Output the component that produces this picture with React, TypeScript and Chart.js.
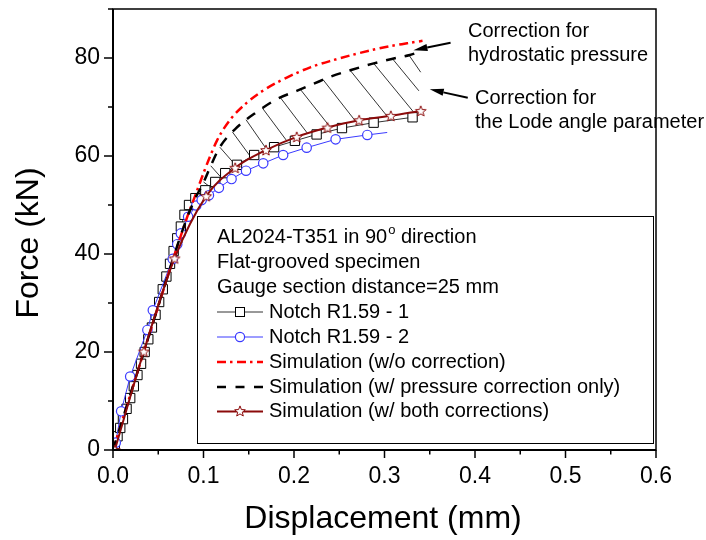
import React, { useEffect, useRef } from "react";
import { Chart, registerables } from "chart.js";

Chart.register(...registerables);

const FONT = '"Liberation Sans", Arial, Helvetica, sans-serif';

// ---- axes ----
const xTickValues = [0, 0.1, 0.2, 0.3, 0.4, 0.5, 0.6];
const yTickValues = [0, 20, 40, 60, 80];
const xMinorTicks = [0.05, 0.15, 0.25, 0.35, 0.45, 0.55];
const yMinorTicks = [10, 30, 50, 70, 90];
const xAxisTitle = "Displacement (mm)";
const yAxisTitle = "Force (kN)";

// ---- legend text ----
const seriesNames = [
  "Notch R1.59 - 1",
  "Notch R1.59 - 2",
  "Simulation (w/o correction)",
  "Simulation (w/ pressure correction only)",
  "Simulation (w/ both corrections)",
];
const headerLine1 = ["AL2024-T351 in 90", "o", " direction"];
const headerLine2 = "Flat-grooved specimen";
const headerLine3 = "Gauge section distance=25 mm";

const annoPressure = ["Correction for", "hydrostatic pressure"];
const annoLode = ["Correction for", "the Lode angle parameter"];

// ---- Notch R1.59 - 1 (squares) ----
const notch1X = [0.002, 0.005, 0.008, 0.011, 0.015, 0.019, 0.023, 0.027, 0.031, 0.035, 0.039, 0.043, 0.047, 0.051, 0.055, 0.059, 0.063, 0.067, 0.071, 0.075, 0.079, 0.084, 0.091, 0.102, 0.113, 0.124, 0.137, 0.156, 0.178, 0.201, 0.225, 0.253, 0.288, 0.331];
const notch1Y = [1.2, 2.8, 4.5, 6.3, 8.4, 10.6, 13.0, 15.3, 17.6, 20.0, 22.6, 25.0, 27.6, 30.2, 32.8, 35.4, 38.0, 40.6, 43.2, 45.6, 48.0, 50.0, 51.4, 53.0, 54.7, 56.5, 58.2, 60.2, 61.8, 63.1, 64.4, 65.7, 66.8, 67.9];

// ---- Notch R1.59 - 2 (circles) ----
const notch2X = [0.003, 0.009, 0.019, 0.038, 0.044, 0.066, 0.071, 0.075, 0.083, 0.092, 0.098, 0.106, 0.117, 0.131, 0.147, 0.166, 0.188, 0.214, 0.246, 0.281, 0.303];
const notch2Y = [1.5, 7.9, 15.0, 24.5, 28.5, 39.0, 42.0, 44.2, 47.6, 49.9, 51.0, 52.0, 53.5, 55.3, 57.0, 58.5, 60.2, 61.7, 63.4, 64.3, 64.8];

// ---- Simulation (w/o correction) ----
const simNoneX = [0, 0.04, 0.08, 0.092, 0.1, 0.107, 0.115, 0.129, 0.148, 0.168, 0.192, 0.218, 0.244, 0.27, 0.3, 0.325, 0.342];
const simNoneY = [0, 23.5, 46.5, 52.5, 56.5, 59.8, 63.2, 67.3, 70.9, 73.6, 76.0, 78.1, 79.6, 80.9, 82.2, 83.0, 83.5];

// ---- Simulation (w/ pressure correction only) ----
const simPressX = [0, 0.04, 0.08, 0.09, 0.1, 0.108, 0.118, 0.135, 0.159, 0.181, 0.203, 0.22, 0.242, 0.264, 0.286, 0.308, 0.328, 0.338];
const simPressY = [0, 23.5, 46.5, 51.0, 54.6, 58.0, 61.8, 65.5, 69.0, 71.6, 73.3, 74.6, 76.3, 77.6, 78.8, 79.8, 80.6, 81.2];

// ---- Simulation (w/ both corrections) ----
const simBothX = [0.002, 0.034, 0.068, 0.103, 0.135, 0.169, 0.203, 0.237, 0.272, 0.307, 0.34];
const simBothY = [0, 20.1, 39.1, 51.8, 57.6, 61.2, 63.9, 65.8, 67.3, 68.2, 69.2];

// ---- hatching between pressure-only and both-corrections curves ----
const hatchX0 = [0.1, 0.108, 0.118, 0.132, 0.147, 0.165, 0.185, 0.207, 0.232, 0.262, 0.288, 0.309, 0.327];
const hatchY0 = [54.7, 58.0, 61.8, 64.9, 67.4, 69.8, 71.9, 73.6, 75.6, 77.5, 78.9, 79.8, 80.6];
const hatchX1 = [0.11, 0.121, 0.137, 0.153, 0.17, 0.192, 0.215, 0.24, 0.268, 0.303, 0.332, 0.338, 0.34];
const hatchY1 = [53.3, 55.3, 57.8, 59.6, 61.3, 63.1, 64.6, 65.9, 67.1, 68.1, 69.0, 73.3, 77.1];

// ---- annotation arrows (tail -> head, data coords) ----
const arrowPressure = { x0: 0.373, y0: 83.1, x1: 0.332, y1: 81.6 };
const arrowLode = { x0: 0.392, y0: 71.9, x1: 0.35, y1: 73.6 };

const RED = "#ff0000";
const BLUE = "#3a3aff";
const BROWN = "#8b0a0a";

const pts = (xs: number[], ys: number[]) => xs.map((x, i) => ({ x, y: ys[i] }));

function starPath(g: CanvasRenderingContext2D, cx: number, cy: number, R: number, r: number) {
  g.beginPath();
  for (let i = 0; i < 10; i++) {
    const a = -Math.PI / 2 + (i * Math.PI) / 5;
    const rad = i % 2 === 0 ? R : r;
    const px = cx + rad * Math.cos(a);
    const py = cy + rad * Math.sin(a);
    if (i === 0) g.moveTo(px, py);
    else g.lineTo(px, py);
  }
  g.closePath();
}

function makeStar() {
  const c = document.createElement("canvas");
  c.width = 14;
  c.height = 14;
  const g = c.getContext("2d")!;
  starPath(g, 7, 7.5, 5.6, 2.4);
  g.fillStyle = "#fff";
  g.fill();
  g.strokeStyle = BROWN;
  g.lineWidth = 1;
  g.stroke();
  return c;
}

function drawArrow(ctx: CanvasRenderingContext2D, x0: number, y0: number, x1: number, y1: number) {
  const ang = Math.atan2(y1 - y0, x1 - x0);
  const L = 14;
  const W = 3.6;
  const bx = x1 - L * Math.cos(ang);
  const by = y1 - L * Math.sin(ang);
  ctx.beginPath();
  ctx.moveTo(x0, y0);
  ctx.lineTo(bx, by);
  ctx.lineWidth = 2;
  ctx.strokeStyle = "#000";
  ctx.stroke();
  ctx.beginPath();
  ctx.moveTo(x1, y1);
  ctx.lineTo(bx + W * Math.sin(ang), by - W * Math.cos(ang));
  ctx.lineTo(bx - W * Math.sin(ang), by + W * Math.cos(ang));
  ctx.closePath();
  ctx.fillStyle = "#000";
  ctx.fill();
}

export default function App() {
  const ref = useRef<HTMLCanvasElement>(null);

  useEffect(() => {
    document.body.style.margin = "0";
    const canvas = ref.current!;
    const star = makeStar();

    const hatchData: any[] = [];
    hatchX0.forEach((x, i) => {
      hatchData.push({ x, y: hatchY0[i] });
      hatchData.push({ x: hatchX1[i], y: hatchY1[i] });
      hatchData.push({ x: hatchX1[i], y: null });
    });

    const decor = {
      id: "decor",
      afterDraw(chart: any) {
        const { ctx, chartArea: a, scales } = chart;
        const xs = scales.x;
        const ys = scales.y;
        const X = (v: number) => xs.getPixelForValue(v);
        const Y = (v: number) => ys.getPixelForValue(v);
        ctx.save();

        // ---- legend box ----
        const L = 197, T = 216, R = 653, B = 443;
        ctx.fillStyle = "#fff";
        ctx.fillRect(L, T, R - L, B - T);
        ctx.strokeStyle = "#000";
        ctx.lineWidth = 1;
        ctx.strokeRect(L + 0.5, T + 0.5, R - L, B - T);

        ctx.fillStyle = "#000";
        ctx.textBaseline = "middle";
        ctx.textAlign = "left";
        ctx.font = `20px ${FONT}`;
        const hx = 217;
        const rows = [237, 262, 287, 312, 337, 362, 387, 411.5];
        let cx = hx;
        ctx.fillText(headerLine1[0], cx, rows[0]);
        cx += ctx.measureText(headerLine1[0]).width + 1;
        ctx.font = `13px ${FONT}`;
        ctx.fillText(headerLine1[1], cx, rows[0] - 7);
        cx += ctx.measureText(headerLine1[1]).width;
        ctx.font = `20px ${FONT}`;
        ctx.fillText(headerLine1[2], cx, rows[0]);
        ctx.fillText(headerLine2, hx, rows[1]);
        ctx.fillText(headerLine3, hx, rows[2]);

        const sx0 = 217, sx1 = 263, smid = 240, tx = 269;
        const entry = (row: number) => rows[3 + row];
        let yy = entry(0);
        ctx.strokeStyle = "#333";
        ctx.lineWidth = 1;
        ctx.beginPath(); ctx.moveTo(sx0, yy); ctx.lineTo(sx1, yy); ctx.stroke();
        ctx.fillStyle = "#fff"; ctx.fillRect(smid - 4.5, yy - 4.5, 9, 9);
        ctx.strokeStyle = "#000"; ctx.strokeRect(smid - 4.5, yy - 4.5, 9, 9);
        yy = entry(1);
        ctx.strokeStyle = BLUE;
        ctx.beginPath(); ctx.moveTo(sx0, yy); ctx.lineTo(sx1, yy); ctx.stroke();
        ctx.beginPath(); ctx.arc(smid, yy, 4.6, 0, Math.PI * 2);
        ctx.fillStyle = "#fff"; ctx.fill(); ctx.lineWidth = 1.2; ctx.stroke();
        yy = entry(2);
        ctx.strokeStyle = RED; ctx.lineWidth = 2.5;
        ctx.setLineDash([9, 4, 2.5, 4.5]);
        ctx.beginPath(); ctx.moveTo(sx0, yy); ctx.lineTo(sx1, yy); ctx.stroke();
        yy = entry(3);
        ctx.strokeStyle = "#000"; ctx.lineWidth = 2.5;
        ctx.setLineDash([9, 9.5]);
        ctx.beginPath(); ctx.moveTo(sx0, yy); ctx.lineTo(sx1, yy); ctx.stroke();
        ctx.setLineDash([]);
        yy = entry(4);
        ctx.strokeStyle = BROWN; ctx.lineWidth = 2;
        ctx.beginPath(); ctx.moveTo(sx0, yy); ctx.lineTo(sx1, yy); ctx.stroke();
        ctx.drawImage(star, smid - 7, yy - 7.5);

        ctx.fillStyle = "#000";
        ctx.font = `20px ${FONT}`;
        seriesNames.forEach((n, i) => ctx.fillText(n, tx, entry(i)));

        // ---- frame & ticks ----
        ctx.strokeStyle = "#000";
        ctx.lineWidth = 1.5;
        ctx.strokeRect(a.left, a.top, a.right - a.left, a.bottom - a.top);
        ctx.lineWidth = 2;
        ctx.beginPath();
        ctx.moveTo(a.left, a.top);
        ctx.lineTo(a.left, a.bottom);
        ctx.lineTo(a.right, a.bottom);
        ctx.stroke();
        ctx.lineWidth = 1.5;
        const seg = (x0: number, y0: number, x1: number, y1: number) => {
          ctx.beginPath(); ctx.moveTo(x0, y0); ctx.lineTo(x1, y1); ctx.stroke();
        };
        yTickValues.forEach((v) => seg(a.left - 9, Y(v), a.left, Y(v)));
        yMinorTicks.forEach((v) => seg(a.left - 5, Y(v), a.left, Y(v)));
        xTickValues.forEach((v) => seg(X(v), a.bottom, X(v), a.bottom + 8));
        xMinorTicks.forEach((v) => seg(X(v), a.bottom, X(v), a.bottom + 4.5));

        // ---- annotations ----
        drawArrow(ctx, X(arrowPressure.x0), Y(arrowPressure.y0), X(arrowPressure.x1), Y(arrowPressure.y1));
        drawArrow(ctx, X(arrowLode.x0), Y(arrowLode.y0), X(arrowLode.x1), Y(arrowLode.y1));
        ctx.fillStyle = "#000";
        ctx.font = `20px ${FONT}`;
        ctx.textAlign = "left";
        ctx.textBaseline = "middle";
        ctx.fillText(annoPressure[0], 468, 31);
        ctx.fillText(annoPressure[1], 468, 55);
        ctx.fillText(annoLode[0], 475, 98.5);
        ctx.fillText(annoLode[1], 475, 122.5);

        // ---- axis titles ----
        ctx.font = `32px ${FONT}`;
        ctx.textAlign = "center";
        ctx.textBaseline = "middle";
        ctx.fillText(xAxisTitle, 383, 519);
        ctx.save();
        ctx.translate(29.5, 243);
        ctx.rotate(-Math.PI / 2);
        ctx.fillText(yAxisTitle, 0, 0);
        ctx.restore();

        ctx.restore();
      },
    };

    const chart = new Chart(canvas, {
      type: "scatter",
      data: {
        datasets: [
          {
            label: seriesNames[4],
            data: pts(simBothX, simBothY),
            showLine: true,
            borderColor: BROWN,
            borderWidth: 2,
            cubicInterpolationMode: "monotone",
            tension: 0.4,
            pointStyle: star as any,
            pointRadius: 6,
            order: 0,
          },
          {
            label: seriesNames[3],
            data: pts(simPressX, simPressY),
            showLine: true,
            borderColor: "#000",
            borderWidth: 2.5,
            borderDash: [10, 9],
            cubicInterpolationMode: "monotone",
            tension: 0.4,
            pointRadius: 0,
            order: 1,
          },
          {
            label: seriesNames[2],
            data: pts(simNoneX, simNoneY),
            showLine: true,
            borderColor: RED,
            borderWidth: 2.5,
            borderDash: [9, 4, 2.5, 4.5],
            cubicInterpolationMode: "monotone",
            tension: 0.4,
            pointRadius: 0,
            order: 2,
          },
          {
            label: seriesNames[1],
            data: pts(notch2X, notch2Y),
            showLine: true,
            borderColor: BLUE,
            borderWidth: 1,
            pointStyle: "circle",
            pointRadius: notch2X.map((_, i) => (i === notch2X.length - 1 ? 0 : 4.7)),
            pointBorderColor: BLUE,
            pointBorderWidth: 1.2,
            pointBackgroundColor: "#fff",
            order: 3,
          },
          {
            label: seriesNames[0],
            data: pts(notch1X, notch1Y),
            showLine: true,
            borderColor: "#333",
            borderWidth: 1,
            pointStyle: "rect",
            pointRadius: 6.6,
            pointBorderColor: "#000",
            pointBorderWidth: 1,
            pointBackgroundColor: "#fff",
            order: 4,
          },
          {
            label: "hatch",
            data: hatchData,
            showLine: true,
            spanGaps: false,
            borderColor: "#000",
            borderWidth: 0.8,
            pointRadius: 0,
            order: 5,
          },
        ],
      },
      options: {
        responsive: false,
        animation: false,
        devicePixelRatio: 1,
        layout: { padding: { top: 9, right: 50, left: 0, bottom: 0 } },
        plugins: { legend: { display: false }, tooltip: { enabled: false } },
        scales: {
          x: {
            type: "linear",
            min: 0,
            max: 0.6,
            afterBuildTicks: (s: any) => {
              s.ticks = xTickValues.map((v) => ({ value: v }));
            },
            afterFit: (s: any) => {
              s.height = 90;
              s.paddingLeft = 0;
              s.paddingRight = 0;
              s.paddingTop = 0;
              s.paddingBottom = 0;
            },
            grid: { display: true, drawOnChartArea: false, drawTicks: true, tickLength: 8, color: "rgba(0,0,0,0)" },
            border: { display: false },
            ticks: {
              padding: 5,
              color: "#000",
              maxRotation: 0,
              autoSkip: false,
              font: { family: FONT, size: 23 },
              callback: (v: any) => Number(v).toFixed(1),
            },
          },
          y: {
            type: "linear",
            min: 0,
            max: 90,
            afterBuildTicks: (s: any) => {
              s.ticks = yTickValues.map((v) => ({ value: v }));
            },
            afterFit: (s: any) => {
              s.width = 113;
              s.paddingLeft = 0;
              s.paddingRight = 0;
              s.paddingTop = 0;
              s.paddingBottom = 0;
            },
            grid: { display: true, drawOnChartArea: false, drawTicks: true, tickLength: 9, color: "rgba(0,0,0,0)" },
            border: { display: false },
            ticks: {
              padding: 4,
              color: "#000",
              autoSkip: false,
              font: { family: FONT, size: 23 },
              callback: (v: any) => String(v),
            },
          },
        },
      },
      plugins: [decor],
    } as any);

    return () => chart.destroy();
  }, []);

  return (
    <div style={{ width: 706, height: 540, background: "#fff" }}>
      <canvas ref={ref} width={706} height={540} style={{ display: "block", width: 706, height: 540 }} />
    </div>
  );
}
